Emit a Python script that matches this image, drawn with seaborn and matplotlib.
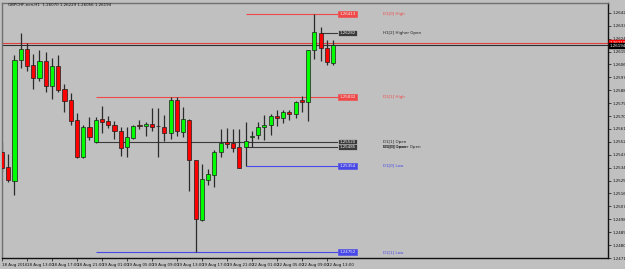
import matplotlib
matplotlib.use("Agg")
import matplotlib.pyplot as plt
import numpy as np
import seaborn as sns

# 蜡烛图数据 GBPCHF-ecn H1, 18 Aug 09:00 -> 22 Aug 14:00
opens = [1.25451, 1.25347, 1.25250, 1.26088, 1.26171, 1.26053, 1.25963, 1.26081, 1.25908, 1.26046,
         1.25887, 1.25811, 1.25672, 1.25416, 1.25624, 1.25520, 1.25679, 1.25665, 1.25638, 1.25596,
         1.25485, 1.25548, 1.25638, 1.25631, 1.25645, 1.25631, 1.25624, 1.25582, 1.25811, 1.25589,
         1.25672, 1.25395, 1.24973, 1.25257, 1.25292, 1.25451, 1.25520, 1.25513, 1.25485, 1.25485,
         1.25555, 1.25569, 1.25624, 1.25638, 1.25700, 1.25686, 1.25728, 1.25714, 1.25811, 1.25797,
         1.26164, 1.26282, 1.26178, 1.26070]
highs = [1.25520, 1.25437, 1.26129, 1.26282, 1.26212, 1.26136, 1.26164, 1.26150, 1.26108, 1.26129,
         1.25922, 1.25859, 1.25721, 1.25638, 1.25693, 1.25693, 1.25769, 1.25700, 1.25665, 1.25624,
         1.25624, 1.25638, 1.25672, 1.25658, 1.25755, 1.25755, 1.25707, 1.25832, 1.25832, 1.25762,
         1.25679, 1.25395, 1.25368, 1.25333, 1.25465, 1.25610, 1.25617, 1.25610, 1.25610, 1.25658,
         1.25596, 1.25658, 1.25707, 1.25714, 1.25742, 1.25742, 1.25742, 1.25804, 1.25838, 1.26164,
         1.26413, 1.26323, 1.26233, 1.26229]
lows = [1.25312, 1.25243, 1.25153, 1.26039, 1.26012, 1.25887, 1.25942, 1.25866, 1.25818, 1.25866,
        1.25728, 1.25638, 1.25409, 1.25409, 1.25534, 1.25513, 1.25582, 1.25617, 1.25541, 1.25423,
        1.25416, 1.25541, 1.25610, 1.25562, 1.25596, 1.25416, 1.25527, 1.25541, 1.25562, 1.25555,
        1.25174, 1.24752, 1.24966, 1.25222, 1.25208, 1.25416, 1.25479, 1.25451, 1.25340, 1.25354,
        1.25485, 1.25541, 1.25534, 1.25569, 1.25631, 1.25652, 1.25672, 1.25686, 1.25728, 1.25665,
        1.26095, 1.26081, 1.26053, 1.26056]
closes = [1.25340, 1.25257, 1.26088, 1.26171, 1.26046, 1.25963, 1.26081, 1.25908, 1.26046, 1.25880,
          1.25804, 1.25665, 1.25416, 1.25624, 1.25555, 1.25672, 1.25658, 1.25638, 1.25596, 1.25479,
          1.25555, 1.25631, 1.25631, 1.25645, 1.25624, 1.25628, 1.25582, 1.25811, 1.25596, 1.25679,
          1.25395, 1.24980, 1.25264, 1.25299, 1.25451, 1.25513, 1.25506, 1.25479, 1.25340, 1.25527,
          1.25562, 1.25624, 1.25638, 1.25700, 1.25686, 1.25728, 1.25714, 1.25797, 1.25797, 1.26164,
          1.26289, 1.26178, 1.26074, 1.26194]

# 时间轴标签 (每4根K线一个)
x_tick_labels = ["18 Aug 2016", "18 Aug 13:00", "18 Aug 17:00", "18 Aug 21:00", "19 Aug 01:00",
                 "19 Aug 05:00", "19 Aug 09:00", "19 Aug 13:00", "19 Aug 17:00", "19 Aug 21:00",
                 "22 Aug 01:00", "22 Aug 05:00", "22 Aug 09:00", "22 Aug 13:00"]
y_ticks = [1.24710, 1.24800, 1.24890, 1.24980, 1.25070, 1.25160, 1.25250, 1.25340, 1.25430, 1.25520,
           1.25610, 1.25700, 1.25790, 1.25880, 1.25970, 1.26060, 1.26150, 1.26240, 1.26330, 1.26420]

# 水平价位线: 名称, 价格, 起始K线
level_names = ["D1[0] High", "H1[2] Higher Open", "D1[1] High", "D1[1] Open", "D1[0] Open",
               "D1[0] Low", "D1[1] Low"]
level_prices = [1.26413, 1.26282, 1.25832, 1.25520, 1.25485, 1.25354, 1.24752]
level_start = [39, 51, 15, 15, 39, 39, 15]
level_kind = ["high", "open", "high", "open", "open", "low", "low"]
overlap_name = "W1[0] Lower Open"

bid = 1.26194
ask = 1.26210
title = "GBPCHF-ecn,H1  1.26070 1.26229 1.26056 1.26194"

# 颜色
bg = "#C0C0C0"
bull = "#00FF00"
bear = "#FF0000"
kind_color = {"high": "#F04848", "open": "#3A3A3A", "low": "#4848E8"}
fs = 2.9

sns.set_theme(style="white", rc={"axes.facecolor": bg, "figure.facecolor": bg})
plt.rcParams['font.family'] = ['DejaVu Sans']

fig = plt.figure(figsize=(6.25, 2.69), dpi=100)
ax = fig.add_axes([2 / 625, 11 / 269, 606 / 625, 255 / 269])

n = len(opens)
idx = np.arange(n)
o = np.array(opens)
c = np.array(closes)
up = c >= o

# 影线
ax.vlines(idx, lows, highs, color="#2A2A2A", linewidth=0.9, zorder=2)
# 实体
bottoms = np.minimum(o, c)
heights = np.maximum(np.abs(c - o), 0.00002)
ax.bar(idx, heights, bottom=bottoms, width=0.66,
       color=[bull if u else bear for u in up], edgecolor="#1E1E1E", linewidth=0.5, zorder=3)

# 买卖价线
ax.axhline(ask, color="#E04040", linewidth=0.8, zorder=1)
ax.axhline(bid, color="#303030", linewidth=0.8, zorder=1)

box_x = 53.85
text_x = 61.0
for name, price, start, kind in zip(level_names, level_prices, level_start, level_kind):
    col = kind_color[kind]
    ax.hlines(price, start, box_x, color=col, linewidth=0.8, zorder=1)
    ax.text(box_x + 0.15, price, f"{price:.5f}", fontsize=fs, color="#F0F0F0", ha="left", va="center",
            bbox=dict(boxstyle="square,pad=0.25", fc=col, ec="#DDDDDD" if kind == "open" else col, lw=0.4),
            zorder=5)
    ax.text(text_x, price, name, fontsize=fs, color="#202020" if kind == "open" else col,
            ha="left", va="center", zorder=5)
ax.text(text_x, level_prices[4], overlap_name, fontsize=fs, color="#202020", ha="left", va="center", zorder=5)

ax.set_xlim(0.05, 97.0)
ax.set_ylim(1.24724, 1.26489)

# 右侧价格轴
ax.yaxis.tick_right()
ax.set_yticks(y_ticks)
ax.set_yticklabels([f"{t:.5f}" for t in y_ticks])
ax.tick_params(axis="y", which="both", right=True, length=2, width=0.5, pad=1.5, labelsize=fs,
               colors="#111111")
ax.set_xticks(idx[::4])
ax.set_xticklabels(x_tick_labels, ha="left")
ax.tick_params(axis="x", bottom=True, length=2, width=0.5, pad=1.5, labelsize=fs, colors="#111111")

# 当前价格标签
ax.text(1.003, ask, "1.26210", transform=ax.get_yaxis_transform(), fontsize=fs, color="white",
        ha="left", va="center", bbox=dict(boxstyle="square,pad=0.15", fc="#FF0000", ec="#FF0000"),
        zorder=6, clip_on=False)
ax.text(1.003, bid - 0.00004, f"{bid:.5f}", transform=ax.get_yaxis_transform(), fontsize=fs,
        color="white", ha="left", va="center",
        bbox=dict(boxstyle="square,pad=0.15", fc="#000000", ec="#000000"), zorder=7, clip_on=False)

for side in ["right", "bottom"]:
    ax.spines[side].set_color("#111111")
    ax.spines[side].set_linewidth(1.0)
for side in ["left", "top"]:
    ax.spines[side].set_color("#707070")
    ax.spines[side].set_linewidth(1.0)

fig.text(8 / 625, 1 - 5 / 269, title, fontsize=fs, color="#111111", ha="left", va="center")

fig.savefig("out.png", dpi=100, facecolor=bg)
